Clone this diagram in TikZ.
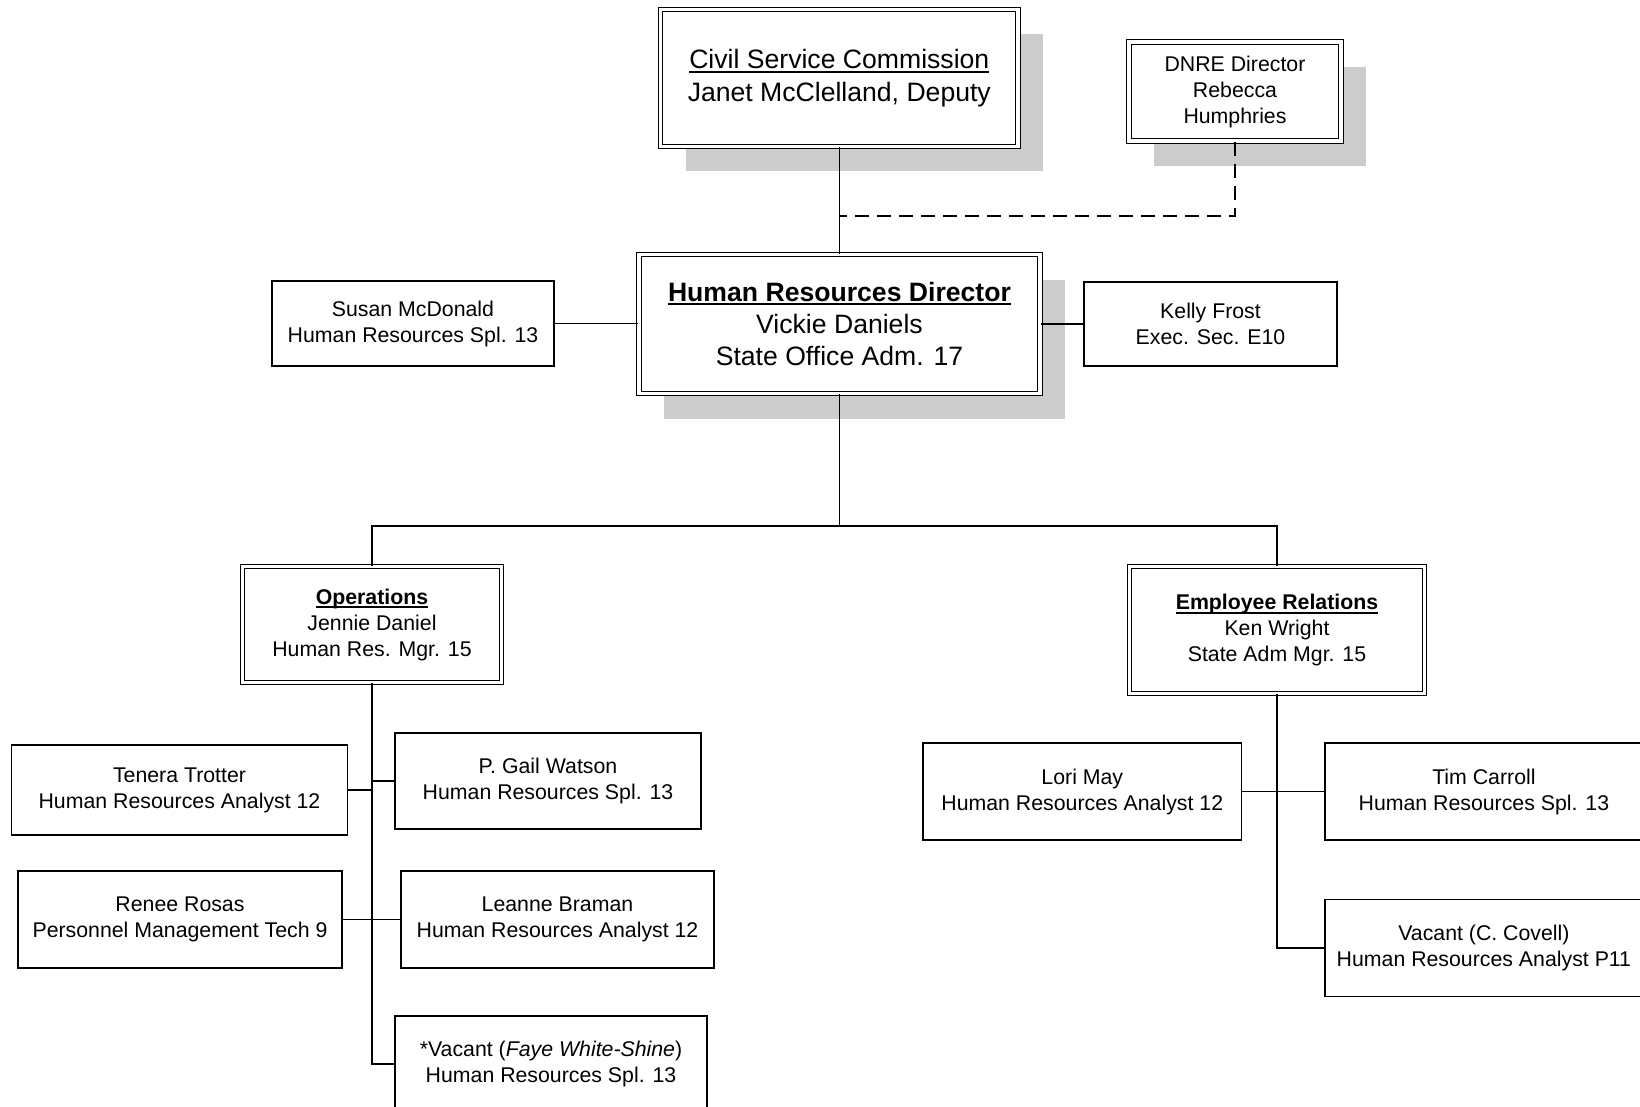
\documentclass[tikz,border=0pt]{standalone}
\usepackage{fontspec}
\setmainfont{Liberation Sans}
\usetikzlibrary{shadows}
\newcommand\fsm{\fontsize{21.3}{26}\selectfont}
\newcommand\flg{\fontsize{26.6}{32.4}\selectfont}
\newcommand\myul[1]{\setbox0\hbox{#1}\rlap{\rule[-4pt]{\wd0}{1.7pt}}\box0}
\begin{document}
\begin{tikzpicture}[x=1pt,y=-1pt,
  sbox/.style={draw, line width=1.6pt, fill=white, align=center, inner sep=0pt, font=\fsm},
  dbox/.style={draw, line width=1.2pt, double=white, double distance=3.4pt, fill=white, align=center, inner sep=0pt},
  shad/.style={drop shadow={fill=black!20, opacity=1, shadow xshift=25pt, shadow yshift=-25pt}},
  conn/.style={line width=1.6pt},
  dconn/.style={line width=1.6pt, dash pattern=on 14pt off 8pt}]
\useasboundingbox (0,0) rectangle (1640,1107);

% top level
\node[dbox, shad, font=\flg, minimum width=357.5pt, minimum height=137pt] (csc) at (839.3,78)
  {\myul{Civil Service Commission}\\Janet McClelland, Deputy};
\node[dbox, shad, font=\fsm, minimum width=212pt, minimum height=99pt] (dnre) at (1235,91.5)
  {DNRE Director\\Rebecca\\Humphries};
\node[dbox, shad, font=\flg, minimum width=401pt, minimum height=139pt] (hrd) at (839.5,324)
  {\myul{\bfseries Human Resources Director}\\Vickie Daniels\\State Office Adm. 17};
\node[sbox, minimum width=282pt, minimum height=85pt] (susan) at (413,323.5)
  {Susan McDonald\\Human Resources Spl. 13};
\node[sbox, minimum width=253pt, minimum height=84pt] (kelly) at (1210.5,324)
  {Kelly Frost\\Exec. Sec. E10};

% managers
\node[dbox, font=\fsm, minimum width=259pt, minimum height=116pt] (ops) at (372,624.5)
  {\myul{\bfseries Operations}\\Jennie Daniel\\Human Res. Mgr. 15};
\node[dbox, font=\fsm, minimum width=295pt, minimum height=127pt] (er) at (1277,630)
  {\myul{\bfseries Employee Relations}\\Ken Wright\\State Adm Mgr. 15};

% operations staff
\node[sbox, minimum width=336pt, minimum height=90pt] (tenera) at (179.5,790)
  {Tenera Trotter\\Human Resources Analyst 12};
\node[sbox, minimum width=306.5pt, minimum height=96pt] (pgail) at (548,781)
  {P. Gail Watson\\Human Resources Spl. 13};
\node[sbox, minimum width=323.6pt, minimum height=97pt] (renee) at (180,919.5)
  {Renee Rosas\\Personnel Management Tech 9};
\node[sbox, minimum width=313pt, minimum height=97pt] (leanne) at (557.5,919.5)
  {Leanne Braman\\Human Resources Analyst 12};
\node[sbox, minimum width=312.5pt, minimum height=96pt] (vacf) at (551,1064)
  {*Vacant ({\itshape Faye White-Shine})\\Human Resources Spl. 13};

% employee relations staff
\node[sbox, minimum width=318.7pt, minimum height=97pt] (lori) at (1082.3,791.5)
  {Lori May\\Human Resources Analyst 12};
\node[sbox, minimum width=318.3pt, minimum height=97pt] (tim) at (1483.9,791.5)
  {Tim Carroll\\Human Resources Spl. 13};
\node[sbox, minimum width=318.3pt, minimum height=97pt] (vacc) at (1483.9,948)
  {Vacant (C. Covell)\\Human Resources Analyst P11};

% connectors
\coordinate (dj) at (839.3,216);
\coordinate (bar) at (839.5,526);
\draw[conn] (csc.south) -- (csc.south |- hrd.north);
\draw[dconn] (dnre.south) |- (dj);
\draw[conn] (susan.east) -- (susan.east -| hrd.west);
\draw[conn] (kelly.west) -- (kelly.west -| hrd.east);
\draw[conn] (hrd.south) -- (bar);
\draw[conn] (ops.north) |- (bar) -| (er.north);
\draw[conn] (ops.south) |- (vacf.west);
\draw[conn] (tenera.east) -- (tenera.east -| ops.south);
\draw[conn] (pgail.west) -- (pgail.west -| ops.south);
\draw[conn] (renee.east) -- (renee.east -| ops.south);
\draw[conn] (leanne.west) -- (leanne.west -| ops.south);
\draw[conn] (er.south) |- (vacc.west);
\draw[conn] (lori.east) -- (tim.west);
\end{tikzpicture}
\end{document}
